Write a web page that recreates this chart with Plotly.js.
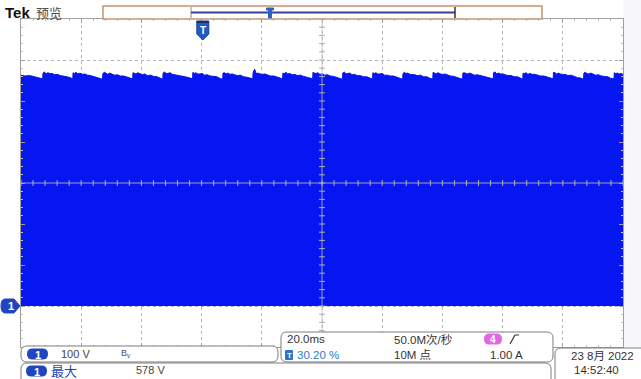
<!DOCTYPE html>
<html>
<head>
<meta charset="utf-8">
<script src="https://cdn.plot.ly/plotly-3.0.1.min.js"></script>
<style>
  html, body { margin: 0; padding: 0; background: #ffffff; }
  #scope { width: 641px; height: 379px; }
</style>
</head>
<body>
<div id="scope"></div>
<script>
// Channel 1 envelope: time in ms (20 ms/div, 10 div), upper edge of the switching burst in volts.
const envT = [
  0.0, 1.4, 2.9, 4.3, 5.8, 7.2,
  7.3, 7.8, 8.3, 8.9, 9.6, 10.4, 11.2, 12.1, 13.1, 14.2, 15.3, 16.3, 17.2,
  17.3, 17.8, 18.3, 18.9, 19.6, 20.4, 21.2, 22.1, 23.1, 24.2, 25.3, 26.3, 27.1,
  27.2, 27.7, 28.2, 28.8, 29.5, 30.3, 31.1, 32.0, 33.0, 34.1, 35.2, 36.2, 37.1,
  37.2, 37.7, 38.2, 38.8, 39.5, 40.3, 41.1, 42.0, 43.0, 44.1, 45.2, 46.2, 47.1,
  47.2, 47.7, 48.2, 48.8, 49.5, 50.3, 51.1, 52.0, 53.0, 54.1, 55.2, 56.2, 57.0,
  57.1, 57.6, 58.1, 58.7, 59.4, 60.2, 61.0, 61.9, 62.9, 64.0, 65.1, 66.1, 67.0,
  67.1, 67.6, 68.1, 68.7, 69.4, 70.2, 71.0, 71.9, 72.9, 74.0, 75.1, 76.1, 77.0,
  77.1, 77.6, 78.1, 78.7, 79.4, 80.2, 81.0, 81.9, 82.9, 84.0, 85.1, 86.1, 86.9,
  87.0, 87.5, 88.0, 88.6, 89.3, 90.1, 90.9, 91.8, 92.8, 93.9, 95.0, 96.0, 96.9,
  97.0, 97.5, 98.0, 98.6, 99.3, 100.1, 100.9, 101.8, 102.8, 103.9, 105.0, 106.0, 106.8,
  106.9, 107.4, 107.9, 108.5, 109.2, 110.0, 110.8, 111.7, 112.7, 113.8, 114.9, 115.9, 116.8,
  116.9, 117.4, 117.9, 118.5, 119.2, 120.0, 120.8, 121.7, 122.7, 123.8, 124.9, 125.9, 126.8,
  126.9, 127.4, 127.9, 128.5, 129.2, 130.0, 130.8, 131.7, 132.7, 133.8, 134.9, 135.9, 136.8,
  136.9, 137.4, 137.9, 138.5, 139.2, 140.0, 140.8, 141.7, 142.7, 143.8, 144.9, 145.9, 146.7,
  146.8, 147.3, 147.8, 148.4, 149.1, 149.9, 150.7, 151.6, 152.6, 153.7, 154.8, 155.8, 156.9,
  157.0, 157.5, 158.0, 158.6, 159.3, 160.1, 160.9, 161.8, 162.8, 163.9, 165.0, 166.0, 166.7,
  166.8, 167.3, 167.8, 168.4, 169.1, 169.9, 170.7, 171.6, 172.6, 173.7, 174.8, 175.8, 176.8,
  176.9, 177.4, 177.9, 178.5, 179.2, 180.0, 180.8, 181.7, 182.7, 183.8, 184.9, 185.9, 186.9,
  187.0, 187.5, 188.0, 188.6, 189.3, 190.1, 190.9, 191.8, 192.8, 193.9, 195.0, 196.0, 197.0,
  197.1, 197.6, 198.1, 198.7, 199.4, 200.0
];
const envV = [
  563, 561, 562, 559, 557, 554,
  568, 571, 566, 569, 567, 567, 564, 565, 562, 561, 559, 557, 554,
  569, 567, 570, 566, 568, 565, 566, 563, 562, 560, 558, 556, 553,
  567, 570, 568, 565, 568, 566, 563, 564, 561, 561, 558, 557, 554,
  569, 568, 566, 569, 566, 564, 566, 562, 563, 560, 559, 555, 553,
  568, 571, 567, 567, 569, 565, 564, 563, 562, 559, 558, 556, 554,
  570, 567, 569, 566, 566, 567, 563, 564, 561, 560, 559, 555, 553,
  568, 569, 566, 568, 565, 566, 564, 562, 563, 559, 558, 556, 554,
  569, 578, 567, 568, 566, 565, 566, 563, 561, 561, 559, 556, 553,
  568, 567, 570, 566, 567, 564, 565, 562, 563, 560, 557, 556, 554,
  570, 568, 567, 569, 565, 566, 563, 564, 561, 560, 558, 555, 553,
  568, 571, 566, 567, 568, 564, 565, 562, 562, 559, 559, 556, 554,
  569, 567, 569, 566, 566, 567, 563, 563, 561, 561, 558, 556, 553,
  567, 570, 567, 568, 565, 565, 564, 562, 563, 559, 559, 555, 554,
  570, 568, 566, 569, 567, 564, 566, 563, 561, 560, 558, 556, 553,
  568, 569, 567, 566, 568, 565, 563, 564, 562, 560, 558, 556, 554,
  569, 571, 566, 568, 566, 566, 564, 562, 562, 559, 559, 555, 553,
  568, 567, 569, 565, 567, 565, 565, 563, 561, 561, 558, 556, 554,
  570, 569, 566, 568, 566, 564, 565, 562, 563, 559, 557, 556, 553,
  568, 570, 567, 566, 568, 566, 563, 564, 561, 560, 559, 555, 554,
  569, 567, 568, 566, 567, 565
];

// Scope settings shown in the readout boxes
const voltsPerDiv = 100;        // V/div, channel 1
const timePerDivMs = 20;        // ms/div
const groundOffsetDiv = -3;     // channel 1 ground marker, divisions from centre
const triggerPct = 30.20;       // trigger position, % of record
const sampleRate = '50.0M次/秒';
const recordLen = '10M 点';
const trigLevel = '1.00 A';
const stampDate = '23 8月 2022';
const stampTime = '14:52:40';

const xSpan = [0, timePerDivMs * 10];
const yCentre = -groundOffsetDiv * voltsPerDiv;
const ySpan = [yCentre - 4 * voltsPerDiv, yCentre + 4 * voltsPerDiv];
const trigMs = xSpan[1] * triggerPct / 100;
const maxV = Math.max(...envV);

// pixel helpers for the frame decorations (plot area 21..623 x 19..347)
const PL = 21, PR = 623, PT = 19, PB = 347;
const fx = px => (px - PL) / (PR - PL);
const fy = py => (PB - py) / (PB - PT);
const trigPx = PL + (trigMs - xSpan[0]) / (xSpan[1] - xSpan[0]) * (PR - PL);
function rr(x0, y0, x1, y1, r) {
  const P = (x, y) => fx(x).toFixed(5) + ',' + fy(y).toFixed(5);
  return 'M' + P(x0 + r, y0) + ' L' + P(x1 - r, y0) + ' Q' + P(x1, y0) + ' ' + P(x1, y0 + r) +
         ' L' + P(x1, y1 - r) + ' Q' + P(x1, y1) + ' ' + P(x1 - r, y1) +
         ' L' + P(x0 + r, y1) + ' Q' + P(x0, y1) + ' ' + P(x0, y1 - r) +
         ' L' + P(x0, y0 + r) + ' Q' + P(x0, y0) + ' ' + P(x0 + r, y0) + ' Z';
}
function pathPx(pts) {
  return 'M' + pts.map(p => fx(p[0]).toFixed(5) + ',' + fy(p[1]).toFixed(5)).join(' L') + ' Z';
}

const BLUE = 'rgb(6,22,240)';
const GRID = '#b6b6b6';
const FRAME = '#a0a0a0';
const shapes = [];

// light strip to the right of the graticule
shapes.push({type: 'rect', xref: 'paper', yref: 'paper', x0: fx(623.5), x1: fx(660), y0: fy(0), y1: fy(347),
  fillcolor: '#f6f6f9', line: {width: 0}, layer: 'below'});

// centre crosshair with minor ticks
shapes.push({type: 'line', xref: 'x', yref: 'y', x0: xSpan[1] / 2, x1: xSpan[1] / 2, y0: ySpan[0], y1: ySpan[1],
  line: {color: '#c2c2c2', width: 1}, layer: 'above', opacity: 0.8});
shapes.push({type: 'line', xref: 'x', yref: 'y', x0: xSpan[0], x1: xSpan[1], y0: yCentre, y1: yCentre,
  line: {color: '#c2c2c2', width: 1}, layer: 'above', opacity: 0.8});
for (let t = xSpan[0]; t <= xSpan[1]; t += timePerDivMs / 5) {
  shapes.push({type: 'line', xref: 'x', yref: 'y', ysizemode: 'pixel', yanchor: yCentre,
    x0: t, x1: t, y0: -3, y1: 3, line: {color: '#b0b0b0', width: 1}, layer: 'above'});
}
for (let v = ySpan[0]; v <= ySpan[1]; v += voltsPerDiv / 5) {
  shapes.push({type: 'line', xref: 'x', yref: 'y', xsizemode: 'pixel', xanchor: xSpan[1] / 2,
    x0: -3, x1: 3, y0: v, y1: v, line: {color: '#b0b0b0', width: 1}, layer: 'above'});
}

// record overview bar along the top
shapes.push({type: 'rect', xref: 'paper', yref: 'paper', x0: fx(103), x1: fx(542), y0: fy(19), y1: fy(6),
  fillcolor: '#ffffff', line: {color: '#c8946c', width: 1.5}});
shapes.push({type: 'line', xref: 'paper', yref: 'paper', x0: fx(191), x1: fx(191), y0: fy(7), y1: fy(18),
  line: {color: '#8c8c8c', width: 1}});
shapes.push({type: 'line', xref: 'paper', yref: 'paper', x0: fx(191), x1: fx(455), y0: fy(12.5), y1: fy(12.5),
  line: {color: '#3b3f96', width: 2}});
shapes.push({type: 'line', xref: 'paper', yref: 'paper', x0: fx(455), x1: fx(455), y0: fy(7), y1: fy(18),
  line: {color: '#333333', width: 1.5}});
shapes.push({type: 'path', xref: 'paper', yref: 'paper',
  path: pathPx([[266.5, 8], [273.5, 8], [273.5, 10], [271.5, 10], [271.5, 18], [268.5, 18], [268.5, 10], [266.5, 10]]),
  fillcolor: '#2a62c8', line: {color: '#2a62c8', width: 1}});

// trigger position marker
shapes.push({type: 'path', xref: 'paper', yref: 'paper',
  path: pathPx([[trigPx - 6, 21], [trigPx + 6, 21], [trigPx + 6, 34], [trigPx, 40], [trigPx - 6, 34]]),
  fillcolor: '#2459c4', line: {color: '#1d3f9a', width: 1}});
shapes.push({type: 'line', xref: 'paper', yref: 'paper', x0: fx(trigPx - 6), x1: fx(trigPx + 6), y0: fy(22), y1: fy(22),
  line: {color: '#16306e', width: 2}});

// channel 1 ground marker
shapes.push({type: 'path', xref: 'paper', yref: 'y', path:
  'M' + fx(5) + ',17 L' + fx(14) + ',17 L' + fx(20) + ',0 L' + fx(14) + ',-17 L' + fx(5) + ',-17 Q' +
  fx(1) + ',-17 ' + fx(1) + ',0 Q' + fx(1) + ',17 ' + fx(5) + ',17 Z',
  fillcolor: '#1f45c0', line: {color: '#1f45c0', width: 1}});

// readout boxes
const boxLine = {color: '#7c7c7c', width: 1};
shapes.push({type: 'path', xref: 'paper', yref: 'paper', path: rr(21, 363, 551, 392, 6), fillcolor: '#ffffff', line: boxLine});
shapes.push({type: 'path', xref: 'paper', yref: 'paper', path: rr(21, 346, 278, 362, 6), fillcolor: '#ffffff', line: boxLine});
shapes.push({type: 'path', xref: 'paper', yref: 'paper', path: rr(281, 332, 553, 362, 6), fillcolor: '#ffffff', line: boxLine});
shapes.push({type: 'path', xref: 'paper', yref: 'paper', path: rr(555, 348, 660, 392, 6), fillcolor: '#ffffff', line: boxLine});
// channel badges
shapes.push({type: 'path', xref: 'paper', yref: 'paper', path: rr(27, 348.5, 48, 359.5, 5.5), fillcolor: '#1f45c0', line: {width: 0}});
shapes.push({type: 'path', xref: 'paper', yref: 'paper', path: rr(26, 365.5, 47, 376.5, 5.5), fillcolor: '#1f45c0', line: {width: 0}});
shapes.push({type: 'path', xref: 'paper', yref: 'paper', path: rr(484, 333.5, 502, 344.5, 5.5), fillcolor: '#e266e2', line: {width: 0}});
shapes.push({type: 'path', xref: 'paper', yref: 'paper', path: rr(285, 350, 293, 360, 1), fillcolor: '#2b72cf', line: {width: 0}});
// rising edge symbol
shapes.push({type: 'path', xref: 'paper', yref: 'paper',
  path: 'M' + fx(510) + ',' + fy(344) + ' L' + fx(515) + ',' + fy(335) + ' L' + fx(519) + ',' + fy(335),
  line: {color: '#333333', width: 1.2}});

const FONT = 'Liberation Sans, Arial, Noto Sans CJK SC, sans-serif';
function txt(text, px, py, size, color, family) {
  return {text: text, xref: 'paper', yref: 'paper', x: fx(px), y: fy(py),
    xanchor: 'left', yanchor: 'middle', showarrow: false,
    font: {family: family || FONT, size: size, color: color}};
}
const CJK = 'Liberation Sans, Noto Sans CJK SC, sans-serif';

const annotations = [
  txt('<b>Tek</b>', 3, 13, 15, '#111111'),
  txt('预览', 34, 13, 13, '#4a4a4a', 'Noto Sans CJK SC'),
  Object.assign(txt('<b>T</b>', trigPx, 30, 10, '#ffffff'), {xanchor: 'center'}),
  Object.assign(txt('<b>1</b>', 11, 305, 11, '#ffffff'), {xanchor: 'center', yref: 'y', y: 0}),
  Object.assign(txt('<b>1</b>', 37.5, 354.5, 11, '#ffffff'), {xanchor: 'center'}),
  txt(voltsPerDiv + ' V', 59, 354, 11, '#444444'),
  txt('B<sub>v</sub>', 119, 353, 9, '#4a4a6a'),
  Object.assign(txt('<b>1</b>', 36.5, 371.5, 11, '#ffffff'), {xanchor: 'center'}),
  txt('最大', 49, 370, 13, '#2244b8', 'Noto Sans CJK SC'),
  txt(maxV + ' V', 134, 370.5, 11, '#444444'),
  txt(timePerDivMs.toFixed(1) + 'ms', 285, 339, 11.5, '#333333'),
  Object.assign(txt('<b>T</b>', 289, 355, 8, '#ffffff'), {xanchor: 'center'}),
  txt(triggerPct.toFixed(2) + ' %', 295, 355, 11.5, '#2f7cc8'),
  txt(sampleRate, 392, 339, 11.5, '#333333', CJK),
  txt(recordLen, 392, 355, 11.5, '#333333', CJK),
  Object.assign(txt('<b>4</b>', 493, 339, 10, '#ffffff'), {xanchor: 'center'}),
  txt(trigLevel, 488, 355, 11.5, '#333333'),
  txt(stampDate, 569, 356, 11.5, '#333333', CJK),
  txt(stampTime, 572, 370, 11.5, '#333333')
];

const trace = {
  type: 'scatter', mode: 'lines', x: envT, y: envV,
  fill: 'tozeroy', fillcolor: BLUE,
  line: {color: BLUE, width: 1, shape: 'linear'},
  hoverinfo: 'skip'
};

const axisCommon = {
  showticklabels: false, zeroline: false, fixedrange: true,
  showgrid: true, gridcolor: GRID, griddash: 'dot', gridwidth: 1,
  showline: true, linecolor: FRAME, linewidth: 1, mirror: 'allticks',
  ticks: 'inside', ticklen: 4, tickcolor: FRAME,
  minor: {ticks: 'inside', ticklen: 2, tickcolor: '#bdbdbd', showgrid: false}
};

const layout = {
  width: 641, height: 379,
  margin: {l: PL, r: 641 - PR, t: PT, b: 379 - PB, pad: 0},
  paper_bgcolor: '#ffffff', plot_bgcolor: '#ffffff',
  showlegend: false,
  xaxis: Object.assign({}, axisCommon, {range: xSpan, dtick: timePerDivMs,
    minor: Object.assign({}, axisCommon.minor, {dtick: timePerDivMs / 5})}),
  yaxis: Object.assign({}, axisCommon, {range: ySpan, dtick: voltsPerDiv,
    minor: Object.assign({}, axisCommon.minor, {dtick: voltsPerDiv / 5})}),
  shapes: shapes,
  annotations: annotations
};

Plotly.newPlot('scope', [trace], layout, {displayModeBar: false, staticPlot: true});
</script>
</body>
</html>
